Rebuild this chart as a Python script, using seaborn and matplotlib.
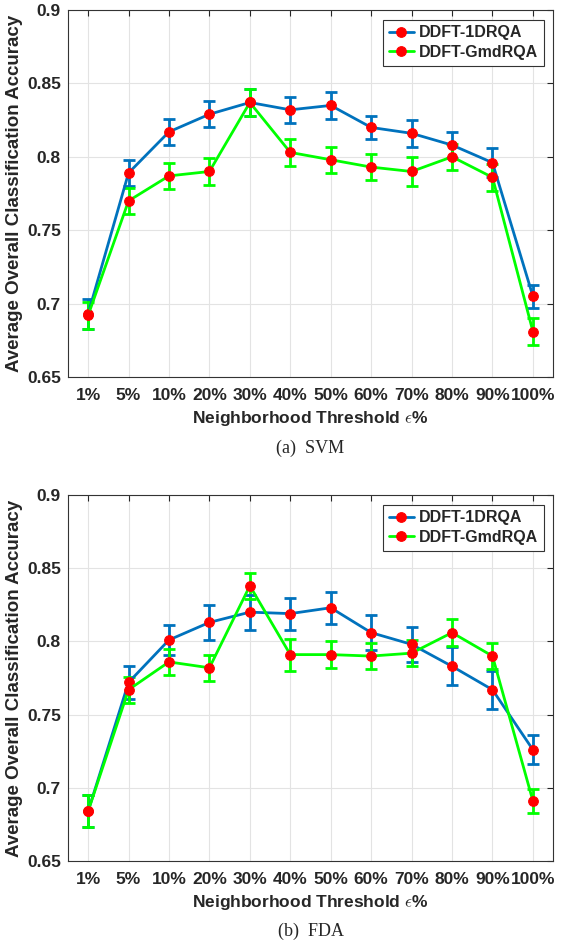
import numpy as np
import pandas as pd
import matplotlib
matplotlib.use("Agg")
import matplotlib.pyplot as plt
import seaborn as sns

# Neighborhood thresholds
thresholds = ["1%", "5%", "10%", "20%", "30%", "40%", "50%", "60%", "70%", "80%", "90%", "100%"]

# (a) SVM
svm_1d = [0.693, 0.789, 0.817, 0.829, 0.837, 0.832, 0.835, 0.820, 0.816, 0.808, 0.796, 0.705]
svm_1d_err = [0.010, 0.009, 0.009, 0.009, 0.009, 0.009, 0.009, 0.008, 0.009, 0.009, 0.010, 0.008]
svm_gmd = [0.692, 0.770, 0.787, 0.790, 0.837, 0.803, 0.798, 0.793, 0.790, 0.800, 0.786, 0.681]
svm_gmd_err = [0.009, 0.009, 0.009, 0.009, 0.009, 0.009, 0.009, 0.009, 0.010, 0.009, 0.009, 0.009]

# (b) FDA
fda_1d = [0.684, 0.772, 0.801, 0.813, 0.820, 0.819, 0.823, 0.806, 0.798, 0.783, 0.767, 0.726]
fda_1d_err = [0.011, 0.011, 0.010, 0.012, 0.012, 0.011, 0.011, 0.012, 0.012, 0.013, 0.013, 0.010]
fda_gmd = [0.684, 0.767, 0.786, 0.782, 0.838, 0.791, 0.791, 0.790, 0.792, 0.806, 0.790, 0.691]
fda_gmd_err = [0.011, 0.009, 0.009, 0.009, 0.009, 0.011, 0.009, 0.009, 0.009, 0.009, 0.009, 0.008]

names = ["DDFT-1DRQA", "DDFT-GmdRQA"]
colors = {"DDFT-1DRQA": "#0072BD", "DDFT-GmdRQA": "#00FF00"}

sns.set_style("white")
plt.rcParams["font.family"] = ["Liberation Sans", "DejaVu Sans"]
plt.rcParams["mathtext.fontset"] = "cm"

fig = plt.figure(figsize=(5.61, 9.44), dpi=100)
ax1 = fig.add_axes([0.121, 0.6006, 0.865, 0.3888])
ax2 = fig.add_axes([0.121, 0.0879, 0.865, 0.3877])


def draw(ax, v1, e1, v2, e2, caption, cap_y):
    x = np.arange(len(thresholds))
    df = pd.DataFrame({
        "x": np.concatenate([x, x]),
        "acc": v1 + v2,
        "method": [names[0]] * len(x) + [names[1]] * len(x),
    })
    # error bars, blue below green
    for name, vals, errs, z in [(names[0], v1, e1, 3), (names[1], v2, e2, 5)]:
        ax.errorbar(x, vals, yerr=errs, fmt="none", ecolor=colors[name],
                    elinewidth=2, capsize=4, capthick=2, zorder=z)
    sns.lineplot(data=df, x="x", y="acc", hue="method", palette=colors, ax=ax,
                 marker="o", markersize=7, markerfacecolor="red", markeredgecolor="red",
                 linewidth=2, sort=False, errorbar=None)
    for i, ln in enumerate(ax.lines):
        ln.set_zorder(4 + 2 * i)

    ax.set_xlim(-0.5, 11.5)
    ax.set_ylim(0.65, 0.9)
    ax.set_xticks(x)
    ax.set_xticklabels(thresholds, fontweight="bold", fontsize=12.5)
    ax.set_yticks([0.65, 0.7, 0.75, 0.8, 0.85, 0.9])
    ax.set_yticklabels(["0.65", "0.7", "0.75", "0.8", "0.85", "0.9"], fontweight="bold", fontsize=12.5)
    ax.grid(True, color="#e3e3e3", linewidth=0.8)
    ax.set_axisbelow(True)
    ax.tick_params(direction="in", top=True, right=True, length=4, width=0.8, pad=5)
    ax.tick_params(axis="x", pad=8)
    for s in ax.spines.values():
        s.set_color("#333333")
        s.set_linewidth(0.8)
    ax.set_xlabel(r"Neighborhood Threshold $\epsilon$%", fontweight="bold", fontsize=12.5, labelpad=4)
    ax.set_ylabel("Average Overall Classification Accuracy", fontweight="bold", fontsize=13.5, labelpad=3)
    leg = ax.legend(loc="upper right", prop={"weight": "bold", "size": 11.5},
                    fancybox=False, framealpha=1, edgecolor="#333333",
                    handlelength=1.6, handletextpad=0.3, borderpad=0.35, labelspacing=0.3,
                    borderaxespad=0.6)
    leg.get_frame().set_linewidth(0.8)
    fig.text(0.5 * (0.121 + 0.986), 1 - cap_y / 944, caption, ha="center", va="center",
             fontsize=13, family="Liberation Serif")


draw(ax1, svm_1d, svm_1d_err, svm_gmd, svm_gmd_err, "(a)  SVM", 448)
draw(ax2, fda_1d, fda_1d_err, fda_gmd, fda_gmd_err, "(b)  FDA", 931)

fig.savefig("out.png", dpi=100)
